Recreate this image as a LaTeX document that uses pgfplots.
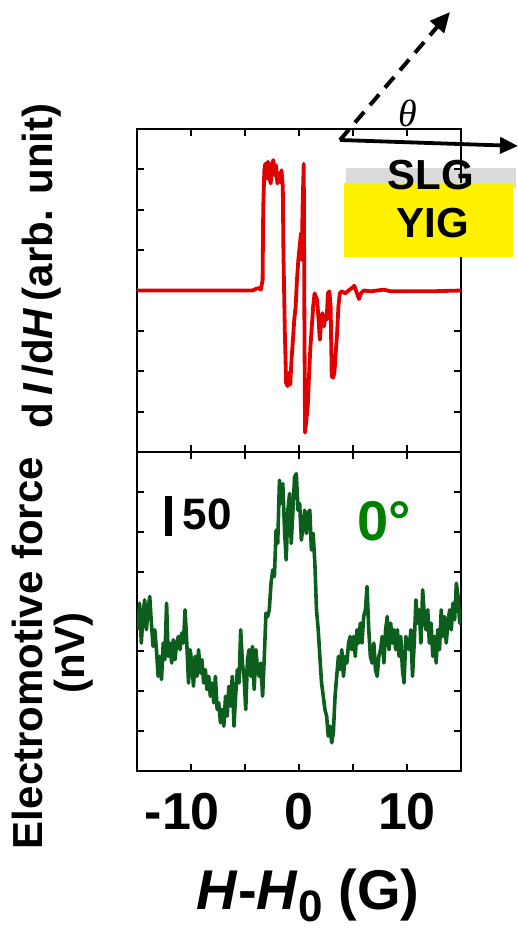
\documentclass[border=0pt]{standalone}
\usepackage{fontspec}
\setmainfont{Liberation Sans}
\newfontfamily\seriffont{Liberation Serif}
\usepackage{pgfplots}
\pgfplotsset{compat=1.18}
\usepackage{pgfplotstable}
\usetikzlibrary{arrows.meta}

\definecolor{fmrred}{RGB}{225,0,0}
\definecolor{emfgreen}{RGB}{12,94,28}
\definecolor{labgreen}{RGB}{0,128,0}

% dI/dH, arb. units
\pgfplotstableread{
x y
-15 0
-4.31 0
-3.99 0.04
-3.68 0.06
-3.53 0.02
-3.37 0.26
-3.31 2.07
-3.21 2.98
-3.12 3.14
-3.00 2.77
-2.87 3.19
-2.75 2.81
-2.62 2.65
-2.50 3.14
-2.37 3.23
-2.25 2.86
-2.12 3.10
-2.00 2.65
-1.87 2.90
-1.75 2.69
-1.62 2.98
-1.50 2.57
-1.44 0.92
-1.31 -1.05
-1.19 -2.29
-1.06 -2.37
-0.94 -2.04
-0.81 -2.33
-0.69 -1.71
-0.56 -1.22
-0.44 -0.72
-0.31 -0.40
-0.19 0.26
-0.06 0.76
0.06 1.09
0.19 1.42
0.25 0.76
0.34 2.16
0.44 3.14
0.50 -0.72
0.56 -3.52
0.69 -3.19
0.81 -2.86
0.94 -2.04
1.06 -1.38
1.19 -0.89
1.31 -0.40
1.44 -0.07
1.56 -0.15
1.68 -0.23
1.81 -0.72
1.93 -1.22
2.06 -0.72
2.18 -0.56
2.31 -0.89
2.43 -0.64
2.56 -0.72
2.68 -0.07
2.81 -0.02
2.93 -0.40
3.03 -2.12
3.15 -2.16
3.28 -2.04
3.40 -1.55
3.53 -1.05
3.65 -0.40
3.78 -0.07
3.96 -0.02
4.27 -0.07
4.59 0
4.90 0.06
5.12 0.12
5.37 -0.07
5.55 -0.21
5.74 -0.07
5.99 0
6.61 -0.02
7.24 0
7.86 0.02
8.49 -0.02
9.11 -0.02
10.67 -0.02
12.23 -0.02
15 0
}\fmrdata

% electromotive force, nV
\pgfplotstableread{
x y
-14.91 -22.9
-14.76 10.4
-14.60 -39.6
-14.45 -6.3
-14.29 14.6
-14.13 -22.9
-13.98 2.1
-13.82 18.8
-13.67 -14.6
-13.51 -43.8
-13.35 -22.9
-13.20 -47.9
-13.04 -81.3
-12.89 -56.3
-12.73 -85.4
-12.57 -39.6
-12.42 -60.4
-12.26 10.4
-12.11 -56.3
-11.95 -39.6
-11.79 -64.6
-11.64 -35.4
-11.48 -60.4
-11.33 -39.6
-11.17 -31.3
-11.01 -47.9
-10.86 -27.1
-10.70 -39.6
-10.55 2.1
-10.39 -39.6
-10.23 -89.6
-10.08 -47.9
-9.92 -64.6
-9.77 -93.8
-9.61 -56.3
-9.45 -81.3
-9.30 -47.9
-9.14 -77.1
-8.99 -60.4
-8.83 -89.6
-8.67 -72.9
-8.52 -97.9
-8.36 -81.3
-8.21 -106.3
-8.05 -89.6
-7.89 -114.6
-7.74 -81.3
-7.58 -122.9
-7.43 -114.6
-7.27 -139.6
-7.11 -122.9
-6.96 -143.8
-6.80 -106.3
-6.65 -131.3
-6.49 -93.8
-6.33 -118.8
-6.18 -81.3
-6.02 -143.8
-5.87 -106.3
-5.71 -72.9
-5.55 -89.6
-5.40 -22.9
-5.24 -64.6
-5.09 -81.3
-4.93 -122.9
-4.77 -60.4
-4.62 -47.9
-4.46 -81.3
-4.31 -43.8
-4.15 -97.9
-3.99 -47.9
-3.84 -72.9
-3.68 -81.3
-3.53 -64.6
-3.37 -106.3
-3.21 -56.3
-3.06 -2.1
-2.90 -6.3
-2.75 2.1
-2.59 35.4
-2.43 52.1
-2.28 43.8
-2.12 102.1
-1.97 85.4
-1.81 164.6
-1.65 135.4
-1.50 160.4
-1.34 102.1
-1.19 64.6
-1.03 127.1
-0.87 147.9
-0.72 85.4
-0.56 127.1
-0.41 168.8
-0.25 172.9
-0.09 127.1
0.06 135.4
0.22 89.6
0.37 106.3
0.53 127.1
0.69 97.9
0.84 122.9
1.00 127.1
1.15 77.1
1.31 97.9
1.47 60.4
1.62 2.1
1.78 -22.9
1.93 -56.3
2.09 -89.6
2.25 -106.3
2.40 -122.9
2.56 -131.3
2.71 -156.3
2.87 -143.8
3.03 -164.6
3.18 -152.1
3.34 -106.3
3.49 -81.3
3.65 -56.3
3.81 -72.9
3.96 -47.9
4.12 -81.3
4.27 -56.3
4.43 -64.6
4.59 -39.6
4.74 -31.3
4.90 -47.9
5.05 -31.3
5.21 -56.3
5.37 -22.9
5.52 -39.6
5.68 -14.6
5.83 -39.6
5.99 -6.3
6.15 2.1
6.30 31.3
6.46 -22.9
6.61 -56.3
6.77 -64.6
6.93 -39.6
7.08 -72.9
7.24 -81.3
7.39 -56.3
7.55 -47.9
7.71 -31.3
7.86 -64.6
8.02 -22.9
8.17 -6.3
8.33 -47.9
8.49 -14.6
8.64 -39.6
8.80 -22.9
8.95 -47.9
9.11 -22.9
9.27 -56.3
9.42 -31.3
9.58 -72.9
9.73 -89.6
9.89 -31.3
10.05 -39.6
10.20 -47.9
10.36 -22.9
10.51 -81.3
10.67 -39.6
10.83 14.6
10.98 -14.6
11.14 2.1
11.29 -39.6
11.45 27.1
11.61 -6.3
11.76 -22.9
11.92 2.1
12.07 -39.6
12.23 -14.6
12.39 -56.3
12.54 -31.3
12.70 -64.6
12.85 -22.9
13.01 -47.9
13.17 2.1
13.32 -31.3
13.48 -6.3
13.63 -39.6
13.79 -14.6
13.95 2.1
14.10 -22.9
14.26 10.4
14.41 -10.4
14.57 35.4
14.73 18.8
14.88 -14.6
14.98 2.1
}\emfdata

\pgfplotsset{
  panel/.style={
    scale only axis, width=162pt,
    xmin=-15, xmax=15,
    xtick={-10,-5,0,5,10},
    tick align=inside,
    major tick length=3.5pt,
    every tick/.style={line width=1pt, black},
    axis line style={line width=1pt},
    yticklabels={},
  },
}

\begin{document}
\begin{tikzpicture}
\useasboundingbox (0,0) rectangle (259pt,466.5pt);

% graphene layer, under the frame
\fill[black!14] (173pt,372.5pt) rectangle (258pt,382.5pt);

\begin{axis}[panel,
    at={(68.5pt,240.5pt)}, anchor=south west,
    height=161.5pt,
    ymin=-4, ymax=4, ytick={-3,...,3},
    xticklabels={},
    ylabel={d\,\textit{I}\,/d\textit{H}\,(arb. unit)},
    ylabel style={at={(rel axis cs:-0.293,0.576)}, anchor=center,
        font=\fontsize{21}{21}\selectfont\bfseries},
]
\addplot[fmrred, line width=1.9pt, line join=round] table[x=x, y=y] {\fmrdata};
\end{axis}

\begin{axis}[panel,
    at={(68.5pt,81pt)}, anchor=south west,
    height=159.5pt,
    ymin=-200, ymax=200, ytick={-150,-100,...,150},
    xticklabels={\llap{-}10,,0,,10},
    xticklabel style={anchor=base, yshift=-29.5pt,
        font=\fontsize{26}{26}\selectfont\bfseries},
    xlabel={\textit{H}-\textit{H}\raisebox{-0.22em}{\fontsize{22}{22}\selectfont 0} (G)},
    xlabel style={at={(rel axis cs:0.528,0)}, anchor=base, yshift=-69pt,
        font=\fontsize{28}{28}\selectfont\bfseries},
    ylabel={Electromotive force\\(nV)},
    ylabel style={at={(rel axis cs:-0.259,0.37)}, anchor=center, align=center,
        font=\fontsize{21}{21}\selectfont\bfseries},
]
\addplot[emfgreen, line width=1.8pt, line join=round] table[x=x, y=y] {\emfdata};
% 50 nV scale bar
\draw[line width=3.5pt] (axis cs:-12.1,95) -- (axis cs:-12.1,145);
\node[font=\fontsize{22}{22}\selectfont\bfseries] at (axis cs:-8.5,121.6) {50};
\node[font=\fontsize{28}{28}\selectfont\bfseries, text=labgreen] at (axis cs:7.9,113.5) {0°};
\end{axis}

% sample sketch
\fill[yellow] (172pt,338pt) rectangle (256.5pt,375pt);
\node[font=\fontsize{21}{21}\selectfont\bfseries] at (215.5pt,379pt) {SLG};
\node[font=\fontsize{21}{21}\selectfont\bfseries] at (216.5pt,355pt) {YIG};
\draw[line width=2pt, dash pattern=on 7pt off 4.5pt, -{Triangle[length=10pt,width=9pt]}]
    (170pt,396.5pt) -- (225pt,460.5pt);
\draw[line width=1.9pt, -{Triangle[length=9pt,width=8pt]}]
    (170pt,396.5pt) -- (259pt,393.5pt);
\node[font=\fontsize{19}{19}\selectfont\seriffont\itshape] at (204pt,410pt) {θ};
\end{tikzpicture}
\end{document}
